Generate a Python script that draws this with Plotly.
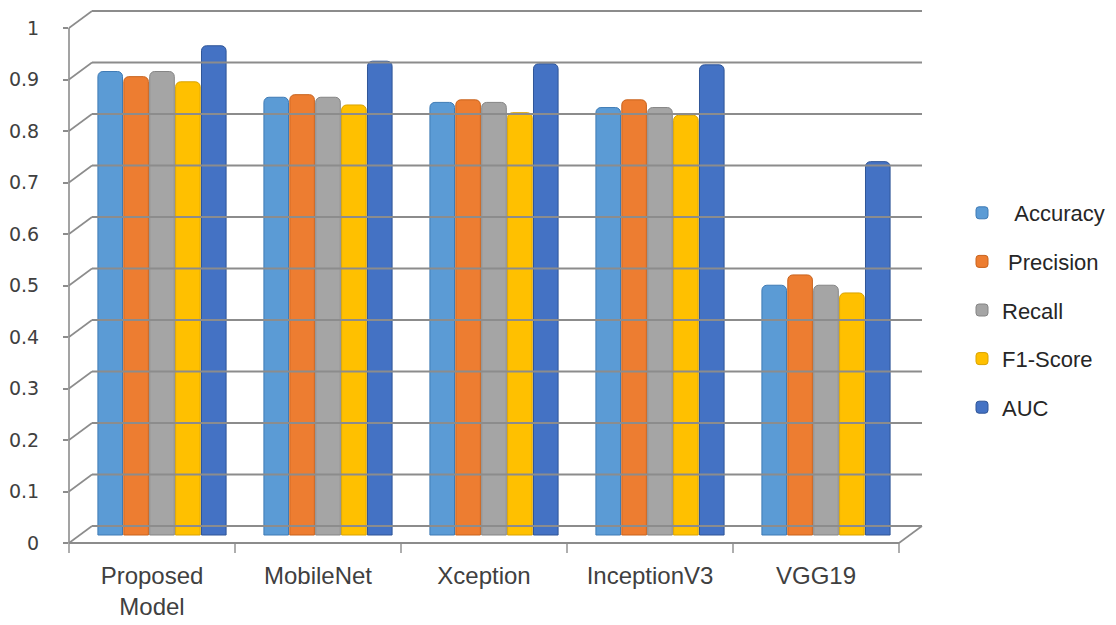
import plotly.graph_objects as go

# ---------------- data ----------------
categories = ["Proposed<br>Model", "MobileNet", "Xception", "InceptionV3", "VGG19"]
accuracy = [0.90, 0.85, 0.84, 0.83, 0.485]
precision = [0.89, 0.855, 0.845, 0.845, 0.505]
recall = [0.90, 0.85, 0.84, 0.83, 0.485]
f1_score = [0.88, 0.835, 0.82, 0.815, 0.47]
auc = [0.95, 0.92, 0.915, 0.913, 0.725]
series_names = ["\u00a0\u00a0Accuracy", "\u00a0Precision", "Recall", "F1-Score", "AUC"]
y_tick_values = [0, 0.1, 0.2, 0.3, 0.4, 0.5, 0.6, 0.7, 0.8, 0.9, 1]
y_tick_labels = ["0", "0.1", "0.2", "0.3", "0.4", "0.5", "0.6", "0.7", "0.8", "0.9", "1"]

# ---------------- styling ----------------
colors = ["#5B9BD5", "#ED7D31", "#A5A5A5", "#FFC000", "#4472C4"]
edge_colors = ["#3F7BB5", "#C8621C", "#858585", "#D9A300", "#2F5597"]
PAGE_PAD = 8                            # default body margin of the html page
W, H = 1116 - PAGE_PAD, 625 - PAGE_PAD
L, R, T, B = 61, 194, 2, 82
PW, PH = W - L - R, H - T - B          # plot area in px
UNIT = 515                              # px per 1.0 value
CAT_PX = 166                            # px per category
BAR_SHIFT = 10                          # bars sit deeper than the front edge
DEPTH_X, DEPTH_Y = 23, 17               # back-wall offset (px)
BASE_LIFT = 8                           # bar base above the front floor edge

lift = BASE_LIFT / UNIT
y_range = [-lift, -lift + PH / UNIT]
x_r0 = -(CAT_PX / 2 + BAR_SHIFT) / CAT_PX
x_range = [x_r0, x_r0 + PW / CAT_PX]
front_tickvals = [v - lift for v in y_tick_values]

series = [accuracy, precision, recall, f1_score, auc]

fig = go.Figure()
for name, vals, c, ec in zip(series_names, series, colors, edge_colors):
    fig.add_trace(go.Bar(
        x=categories, y=vals, name=name,
        marker=dict(color=c, line=dict(color=ec, width=1), cornerradius=5),
        legendgroup=name,
    ))

# ---------------- 3D-like frame (paper coordinates) ----------------
def px_x(p):
    return p / PW

def px_y(p):
    return p / PH

grid_col = "#8C8C8C"
shapes = []
dx, dy = px_x(DEPTH_X), px_y(DEPTH_Y)
shapes.append(dict(type="line", xref="paper", yref="paper", x0=0, x1=0,
                   y0=0, y1=px_y(UNIT * 1.0), line=dict(color=grid_col, width=1.6)))
for v in y_tick_values:
    yf = px_y(UNIT * v)
    shapes.append(dict(type="line", xref="paper", yref="paper", x0=0, x1=dx,
                       y0=yf, y1=yf + dy, line=dict(color=grid_col, width=1.6)))
    shapes.append(dict(type="line", xref="paper", yref="paper", x0=dx, x1=1,
                       y0=yf + dy, y1=yf + dy, line=dict(color=grid_col, width=1.8)))
front_right = px_x(CAT_PX * len(categories))
shapes.append(dict(type="line", xref="paper", yref="paper", x0=0, x1=front_right,
                   y0=0, y1=0, line=dict(color=grid_col, width=2)))
shapes.append(dict(type="line", xref="paper", yref="paper", x0=front_right, x1=1,
                   y0=0, y1=dy, line=dict(color=grid_col, width=1.6)))
for i in range(len(categories) + 1):
    xs = px_x(CAT_PX * i)
    shapes.append(dict(type="line", xref="paper", yref="paper", x0=xs, x1=xs,
                       y0=0, y1=-px_y(10), line=dict(color=grid_col, width=1.4)))

fig.update_layout(
    width=W, height=H,
    margin=dict(l=L, r=R, t=T, b=B, autoexpand=False),
    paper_bgcolor="white", plot_bgcolor="white",
    barmode="group", bargap=0.22, bargroupgap=0.05,
    shapes=shapes,
    xaxis=dict(type="category", range=x_range, showgrid=False, zeroline=False,
               showline=False, ticks="", ticklabelshift=-BAR_SHIFT,
               ticklabelstandoff=16, automargin=False,
               tickfont=dict(family="Liberation Sans", size=24, color="#404040")),
    yaxis=dict(range=y_range, tickvals=front_tickvals, ticktext=y_tick_labels,
               showgrid=False, zeroline=False, showline=False,
               ticks="outside", ticklen=5, tickcolor=grid_col, tickwidth=1.5,
               ticklabelstandoff=20, automargin=False,
               tickfont=dict(family="DejaVu Sans", size=19, color="#404040")),
    legend=dict(x=px_x(962 - PAGE_PAD - L), xanchor="left",
                y=px_y(543 - 310), yanchor="middle",
                font=dict(family="Liberation Sans", size=22, color="#262626"),
                tracegroupgap=17, itemwidth=30, bgcolor="rgba(0,0,0,0)"),
    showlegend=True,
)

fig.write_html("out.html")
